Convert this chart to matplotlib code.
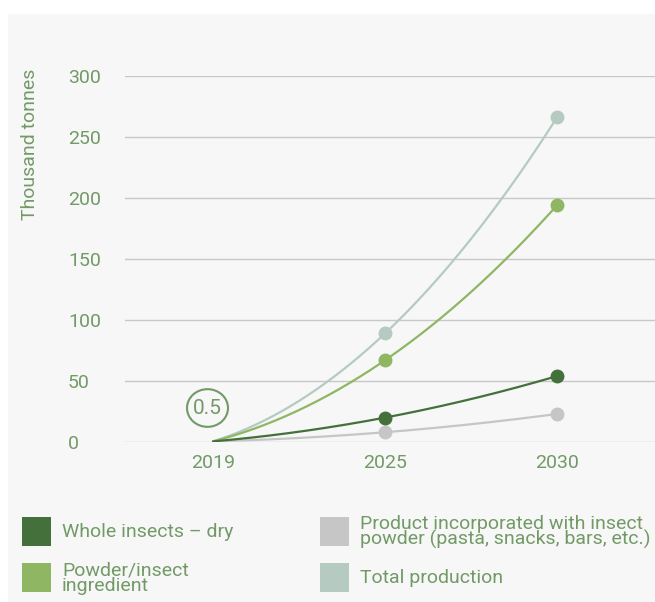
import matplotlib.pyplot as plt
import numpy as np
from matplotlib.patches import Rectangle, Circle

plt.rcParams['font.family'] = ['Roboto', 'DejaVu Sans']

# data (thousand tonnes)
years = ['2019', '2025', '2030']
whole_dry = [0.5, 20, 54]
powder = [0.5, 67, 194]
product = [0.5, 8, 23]
total = [0.5, 89, 266]

labels = ['Whole insects \u2013 dry', 'Powder/insect\ningredient',
          'Product incorporated with insect\npowder (pasta, snacks, bars, etc.)',
          'Total production']
colors = ['#44703c', '#8fb763', '#c6c6c6', '#b5cbc1']
txt_green = '#729a67'

fig = plt.figure(figsize=(6.55, 6.02), dpi=100)
W, H = 655, 602

# light grey card behind everything
fig.patches.append(Rectangle((8 / W, 0), 1 - 8 / W, 1 - 14 / H, transform=fig.transFigure,
                             facecolor='#f7f7f7', edgecolor='none', zorder=-5))

ax = fig.add_axes([125 / W, 1 - 442 / H, 530 / W, 366 / H])
ax.set_facecolor('none')
ax.set_zorder(2)

x = np.arange(len(years))
xs = np.linspace(0, 2, 200)

series = [(product, colors[2]), (total, colors[3]), (powder, colors[1]), (whole_dry, colors[0])]
for vals, c in series:
    coef = np.polyfit(x, vals, 2)
    ax.plot(xs, np.polyval(coef, xs), color=c, lw=1.6, zorder=3, solid_capstyle='round')
    ax.plot(x[1:], vals[1:], 'o', color=c, ms=9, zorder=4, clip_on=False)

ax.set_xlim(-0.512, 2.57)
ax.set_ylim(0, 300)
ax.set_yticks(range(0, 301, 50))
ax.set_xticks(x)
ax.set_xticklabels(years)
ax.grid(axis='y', color='#c8c8c8', lw=1)
ax.set_axisbelow(True)
for s in ax.spines.values():
    s.set_visible(False)
ax.tick_params(length=0, colors=txt_green, labelsize=14)
ax.tick_params(axis='x', pad=9)
for t in ax.get_yticklabels():
    t.set_horizontalalignment('left')
ax.tick_params(axis='y', pad=41)

fig.text(30 / W, 1 - 144 / H, 'Thousand tonnes', rotation=90, ha='center', va='center',
         color=txt_green, fontsize=14)

# circled start value
fig.patches.append(Circle((207.5 / W, 1 - 408 / H), 20.5 / W, transform=fig.transFigure,
                          facecolor='none', edgecolor=txt_green, lw=1.5))
fig.text(207.5 / W, 1 - 409 / H, '0.5', ha='center', va='center', color=txt_green, fontsize=15)

# legend
leg_pos = [(22, 517), (22, 563), (320, 517), (320, 563)]
for (lx, ly), lab, c in zip(leg_pos, labels, colors):
    fig.patches.append(Rectangle((lx / W, 1 - (ly + 29) / H), 29 / W, 29 / H,
                                 transform=fig.transFigure, facecolor=c, edgecolor='none'))
    fig.text((lx + 40) / W, 1 - (ly + 15) / H, lab, ha='left', va='center', color=txt_green,
             fontsize=14, linespacing=0.85)

fig.savefig('out.png', dpi=100)
